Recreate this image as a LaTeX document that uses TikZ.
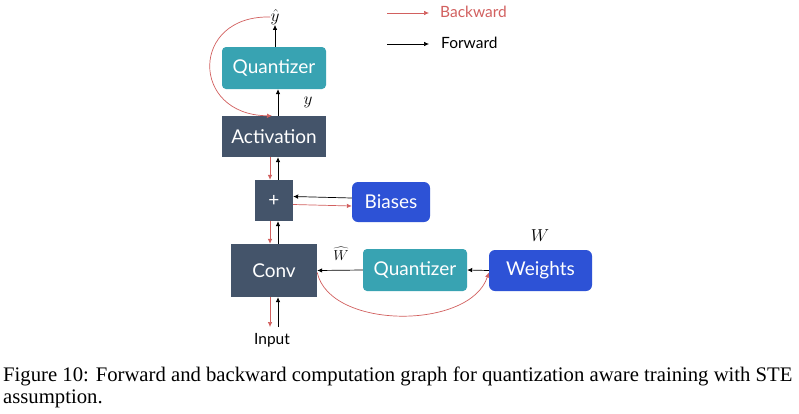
\documentclass[tikz,border=0pt]{standalone}
\usepackage{fontspec}
\setmainfont{Liberation Serif}
\newfontfamily\diagfont{Lato}
\usetikzlibrary{arrows.meta}
\definecolor{navy}{HTML}{44546A}
\definecolor{tealq}{HTML}{38A3B2}
\definecolor{blueb}{HTML}{2D52D6}
\definecolor{redb}{HTML}{D2605F}
\begin{document}
\begin{tikzpicture}[x=1pt,y=-1pt,
  box/.style={draw=none,text=white,font=\diagfont\fontsize{19}{20}\selectfont,inner sep=0pt},
  fwd/.style={draw=black,line width=0.7pt,-{Latex[length=5pt,width=4.5pt]}},
  bwd/.style={draw=redb,line width=0.7pt,-{Latex[length=5pt,width=4.5pt]}},
  lbl/.style={font=\diagfont\fontsize{15.5}{17}\selectfont,inner sep=1pt}]
\useasboundingbox (0,0) rectangle (799,413);
\fill[white] (0,0) rectangle (799,413);
% nodes
\node[box,fill=tealq,rounded corners=4pt,minimum width=104pt,minimum height=42pt] (q1) at (274,68) {Quantizer};
\node[box,fill=navy,minimum width=104pt,minimum height=41pt] (act) at (274,136.5) {Activation};
\node[box,fill=navy,minimum width=38pt,minimum height=41pt] (plus) at (274,200.5) {+};
\node[box,fill=blueb,rounded corners=6pt,minimum width=78pt,minimum height=40pt] (bias) at (391,202) {Biases};
\node[box,fill=navy,minimum width=86pt,minimum height=53pt] (conv) at (274,270.5) {Conv};
\node[box,fill=tealq,rounded corners=4pt,minimum width=104pt,minimum height=42pt] (q2) at (415,270) {Quantizer};
\node[box,fill=blueb,rounded corners=6pt,minimum width=103pt,minimum height=41pt] (wts) at (540.5,270.5) {Weights};
% labels
\node[inner sep=0pt,font=\fontsize{17}{18}\selectfont] (yhat) at (275,17) {$\hat{y}$};
\node[inner sep=0pt,font=\fontsize{17}{18}\selectfont] (ylab) at (308,102) {$y$};
\node[inner sep=0pt,font=\fontsize{14}{15}\selectfont] (what) at (341,254) {$\widehat{W}$};
\node[inner sep=0pt,font=\fontsize{16}{17}\selectfont] (wlab) at (540,236) {$W$};
\node[lbl] (inp) at (272,340) {Input};
\coordinate (inbot) at (274,327);
% forward arrows
\draw[fwd] ([xshift=1pt]q1.north) -- ([xshift=1pt]q1.north |- yhat.south);
\draw[fwd] ([xshift=4pt]act.north) -- ([xshift=4pt]q1.south);
\draw[fwd] ([xshift=4pt]plus.north) -- ([xshift=4pt]act.south);
\draw[fwd] ([xshift=4pt]conv.north) -- ([xshift=4pt]plus.south);
\draw[fwd] ([xshift=4pt]inbot) -- ([xshift=4pt]conv.south);
\draw[fwd] ([yshift=4pt]bias.west) -- ([yshift=4pt]plus.east);
\draw[fwd] (q2.west) -- (conv.east);
\draw[fwd] (wts.west) -- (q2.east);
% backward arrows
\draw[bwd] ([xshift=-4pt]act.south) -- ([xshift=-4pt]plus.north);
\draw[bwd] ([xshift=-4pt]plus.south) -- ([xshift=-4pt]conv.north);
\draw[bwd] ([xshift=-4pt]conv.south) -- ([xshift=-4pt]inbot);
\draw[bwd] ([yshift=-4pt]plus.east) -- ([yshift=-4pt]bias.west);
\draw[bwd] (yhat.west) .. controls (190,15) and (190,115) .. ([xshift=-2pt]act.north);
\draw[bwd] ([yshift=-2pt]conv.east) .. controls (330,330) and (470,330) .. ([yshift=-2pt]wts.west);
% legend
\coordinate (lb1) at (387,13);
\coordinate (lb2) at (429,13);
\coordinate (lf1) at (387,44);
\coordinate (lf2) at (429,44);
\draw[bwd] (lb1) -- (lb2);
\draw[fwd] (lf1) -- (lf2);
\node[lbl,anchor=west,text=redb] (lbk) at (439,12) {Backward};
\node[lbl,anchor=west] (lfw) at (440,43) {Forward};
% caption
\node[anchor=north west,inner sep=0pt,align=left,font=\fontsize{20.7}{22}\selectfont] (cap) at (3,367)
 {Figure 10: Forward and backward computation graph for quantization aware training with STE\\assumption.};
\end{tikzpicture}
\end{document}
